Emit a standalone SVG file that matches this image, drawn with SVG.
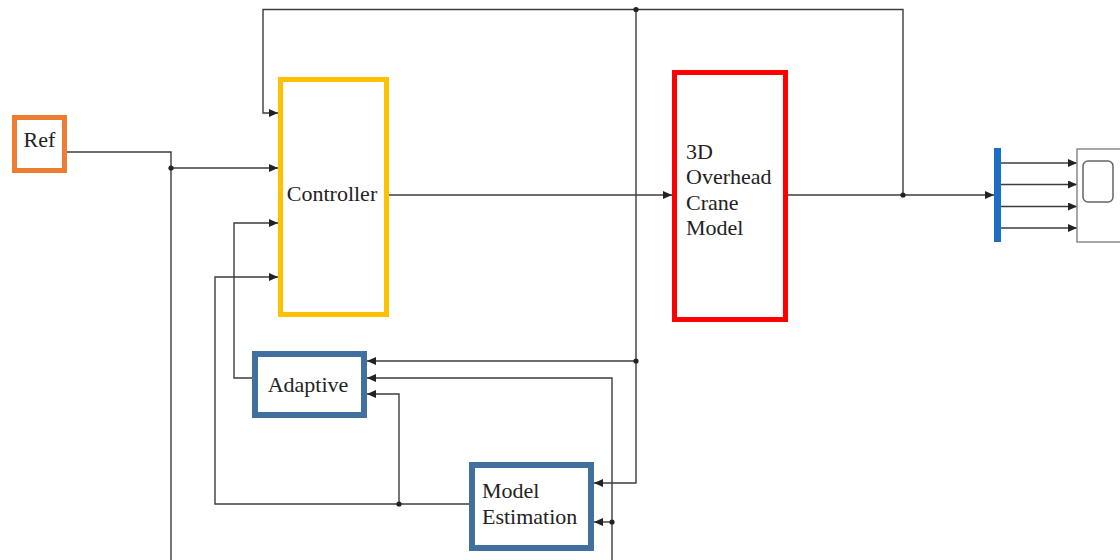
<svg xmlns="http://www.w3.org/2000/svg" width="1120" height="560" viewBox="0 0 1120 560">
<style>
.w{fill:none;stroke:#3c3c3c;stroke-width:1.4}
.a{marker-end:url(#ah)}
.d{fill:#222}
.t{font-family:"Liberation Serif","Times New Roman",serif;font-size:22px;fill:#222}
.blk{fill:#fff}
</style>
<defs>
<marker id="ah" markerUnits="userSpaceOnUse" markerWidth="9" markerHeight="8" refX="9" refY="4" orient="auto">
<path d="M0,0 L9,4 L0,8 z" fill="#222"/>
</marker>
</defs>
<rect width="1120" height="560" fill="#fff"/>
<g id="connectors">
<path class="w" d="M67,152 H171 V560"/>
<path class="w a" d="M171,168 H278"/>
<path class="w a" d="M903,195 V9.5 H263 V113 H278"/>
<path class="w a" d="M636,9.5 V483 H594"/>
<path class="w a" d="M636,361 H367"/>
<path class="w a" d="M612,560 V378 H367"/>
<path class="w a" d="M612,522 H594"/>
<path class="w a" d="M252,378 H234 V223 H278"/>
<path class="w a" d="M469,504 H215 V277 H278"/>
<path class="w a" d="M399,504 V394 H367"/>
<path class="w a" d="M389,195 H672"/>
<path class="w a" d="M788,195 H994"/>
<path class="w a" d="M1001,163 H1077"/>
<path class="w a" d="M1001,184.5 H1077"/>
<path class="w a" d="M1001,206.5 H1077"/>
<path class="w a" d="M1001,228 H1077"/>
<circle class="d" cx="171" cy="168" r="2.6"/>
<circle class="d" cx="636" cy="9.5" r="2.6"/>
<circle class="d" cx="636" cy="361" r="2.6"/>
<circle class="d" cx="612" cy="522" r="2.6"/>
<circle class="d" cx="399" cy="504" r="2.6"/>
<circle class="d" cx="903" cy="195" r="2.6"/>
</g>
<g id="ref">
<rect class="blk" x="14.5" y="117.5" width="50" height="53" stroke="#ED7D31" stroke-width="5"/>
<text class="t" x="39.5" y="147" text-anchor="middle">Ref</text>
</g>
<g id="controller">
<rect class="blk" x="280.5" y="79.5" width="106" height="235" stroke="#FFC000" stroke-width="5"/>
<text class="t" x="332" y="201" text-anchor="middle">Controller</text>
</g>
<g id="crane">
<rect class="blk" x="674.5" y="72.5" width="111" height="247" stroke="#FF0000" stroke-width="5"/>
<text class="t" x="686"><tspan x="686" y="159">3D</tspan><tspan x="686" y="184">Overhead</tspan><tspan x="686" y="210">Crane</tspan><tspan x="686" y="235">Model</tspan></text>
</g>
<g id="adaptive">
<rect class="blk" x="255" y="354" width="109" height="61" stroke="#41709F" stroke-width="6"/>
<text class="t" x="308" y="392" text-anchor="middle">Adaptive</text>
</g>
<g id="model-estimation">
<rect class="blk" x="472" y="465" width="119" height="83" stroke="#41709F" stroke-width="6"/>
<text class="t"><tspan x="482" y="498">Model</tspan><tspan x="482" y="524">Estimation</tspan></text>
</g>
<g id="mux">
<rect x="994" y="148" width="7" height="94" fill="#1A6FC4"/>
</g>
<g id="scope">
<rect x="1077" y="149" width="60" height="93" fill="#fff" stroke="#8a8a8a" stroke-width="1.5"/>
<rect x="1083" y="161" width="30" height="41" rx="5" fill="#fff" stroke="#666" stroke-width="1.5"/>
</g>
</svg>
